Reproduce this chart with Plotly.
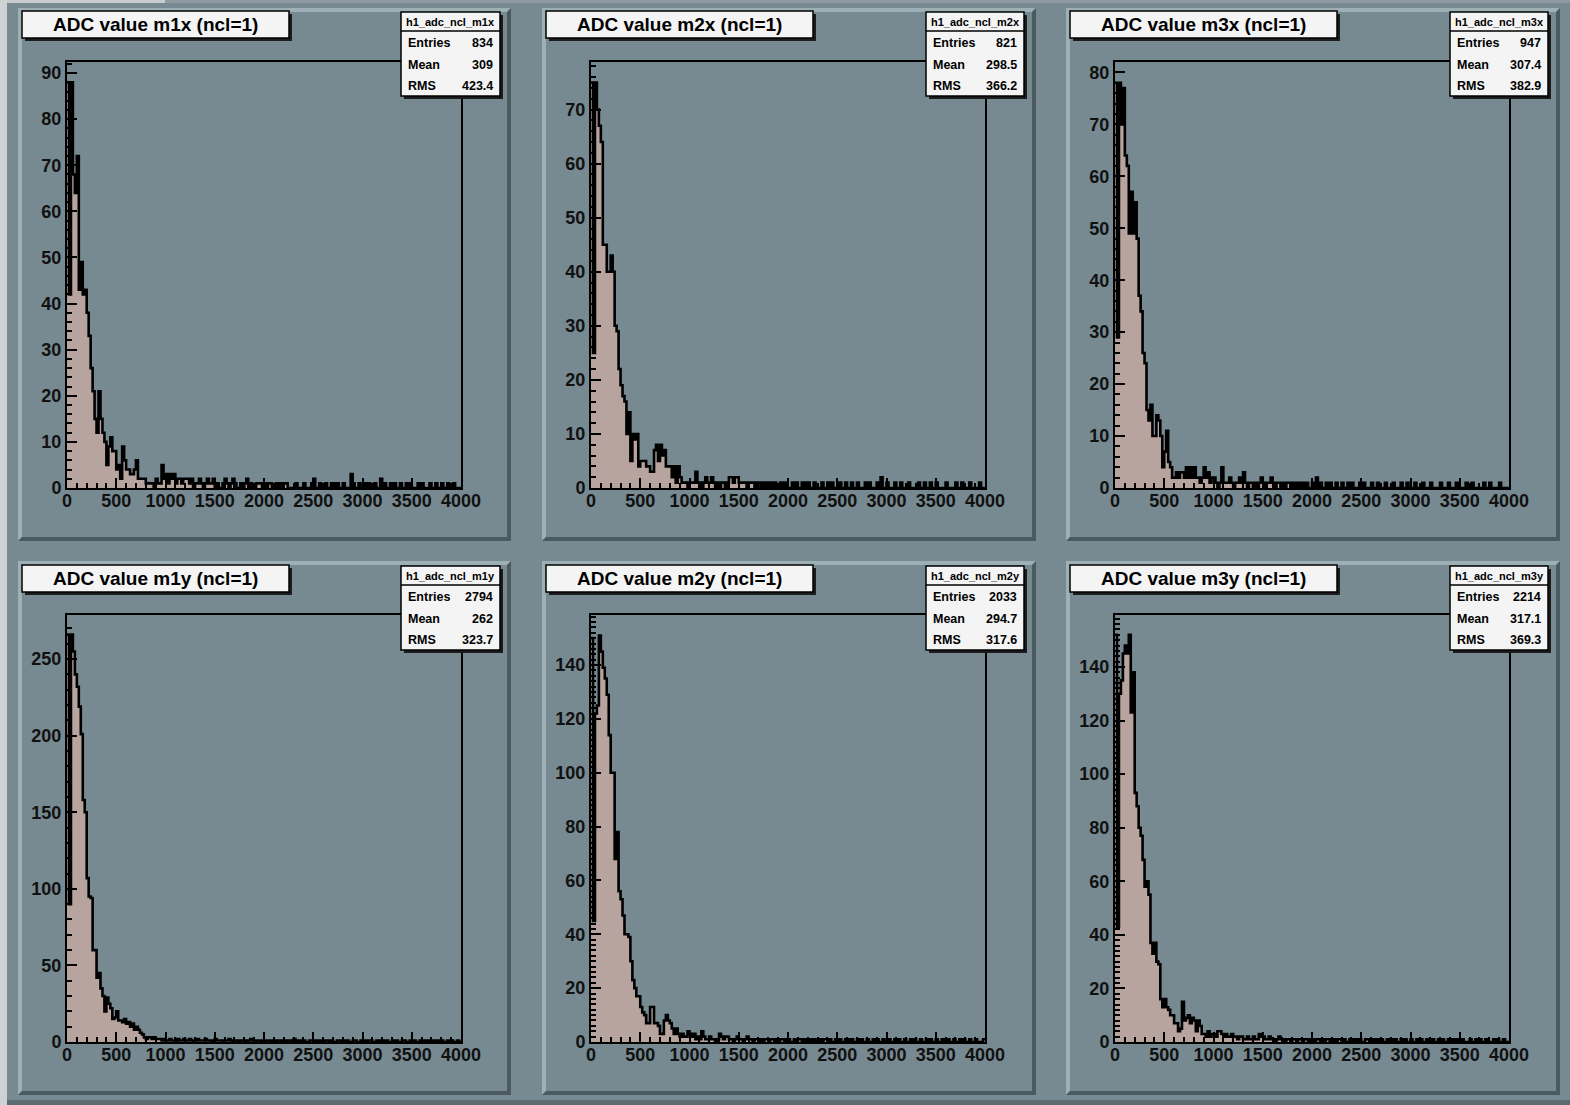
import plotly.graph_objects as go

W, H = 1570, 1105
BIN_WIDTH = 20  # ADC units per bin (0..4000)

# ---------------- data (counts per 20-ADC bin) ----------------
m1x = [
    88, 42, 88, 68, 64, 72, 43, 49, 42, 43,
    38, 33, 26, 21, 15, 12, 21, 15, 12, 10,
    5, 9, 11, 8, 8, 4, 5, 2, 9, 6,
    4, 4, 3, 3, 4, 6, 2, 2, 2, 2,
    1, 1, 1, 1, 0, 2, 1, 1, 5, 2,
    3, 1, 3, 2, 3, 1, 2, 2, 1, 2,
    2, 2, 1, 2, 0, 1, 1, 2, 1, 0,
    1, 2, 1, 1, 2, 0, 1, 0, 0, 1,
    2, 1, 0, 1, 2, 1, 0, 0, 1, 0,
    1, 2, 0, 1, 0, 0, 1, 1, 1, 0,
    1, 0, 1, 1, 0, 0, 1, 0, 1, 0,
    1, 1, 0, 0, 0, 0, 1, 0, 0, 0,
    1, 0, 0, 0, 1, 2, 0, 0, 1, 0,
    0, 1, 0, 0, 1, 1, 0, 1, 0, 0,
    1, 0, 0, 0, 3, 1, 0, 0, 1, 0,
    0, 1, 0, 1, 0, 0, 1, 0, 0, 2,
    0, 1, 0, 0, 1, 0, 1, 0, 0, 1,
    0, 0, 1, 0, 1, 0, 0, 0, 1, 0,
    1, 0, 0, 0, 1, 0, 0, 1, 0, 0,
    1, 0, 0, 1, 0, 0, 1, 0, 0, 0,
]
m2x = [
    75, 25, 75, 70, 67, 64, 45, 45, 40, 40,
    43, 40, 30, 29, 22, 19, 17, 16, 10, 14,
    5, 10, 9, 10, 4, 5, 5, 5, 4, 4,
    3, 3, 7, 8, 5, 8, 6, 7, 4, 4,
    4, 2, 4, 1, 4, 2, 1, 1, 1, 0,
    1, 1, 1, 3, 1, 1, 0, 1, 2, 1,
    1, 2, 1, 0, 1, 0, 1, 1, 0, 1,
    2, 2, 1, 2, 2, 1, 1, 1, 1, 0,
    1, 1, 1, 0, 1, 1, 0, 1, 0, 1,
    0, 1, 0, 1, 0, 0, 1, 0, 1, 0,
    0, 0, 1, 0, 1, 0, 0, 1, 0, 1,
    1, 0, 0, 1, 0, 0, 0, 1, 0, 0,
    1, 0, 1, 0, 0, 0, 1, 0, 0, 1,
    0, 0, 1, 0, 0, 1, 0, 0, 0, 1,
    0, 1, 0, 0, 0, 1, 0, 2, 0, 0,
    1, 0, 0, 0, 1, 0, 0, 1, 0, 0,
    0, 1, 0, 0, 0, 0, 1, 0, 0, 1,
    0, 0, 1, 0, 0, 1, 0, 0, 0, 0,
    1, 0, 0, 0, 0, 1, 0, 0, 1, 0,
    0, 0, 1, 0, 0, 0, 0, 1, 0, 0,
]
m3x = [
    78, 29, 78, 70, 77, 64, 62, 49, 57, 49,
    55, 48, 37, 34, 26, 24, 15, 13, 16, 10,
    10, 14, 13, 10, 4, 7, 11, 5, 4, 2,
    2, 3, 2, 3, 3, 2, 4, 2, 4, 2,
    4, 2, 2, 1, 2, 4, 2, 3, 1, 2,
    2, 1, 0, 1, 4, 1, 1, 1, 2, 1,
    0, 1, 1, 2, 1, 3, 1, 0, 1, 1,
    0, 1, 0, 1, 2, 1, 0, 1, 1, 2,
    1, 0, 1, 1, 0, 1, 0, 1, 1, 0,
    1, 0, 1, 0, 1, 1, 0, 1, 0, 0,
    1, 0, 2, 0, 1, 0, 0, 1, 0, 1,
    0, 0, 1, 0, 0, 1, 0, 0, 1, 0,
    1, 0, 0, 0, 1, 0, 1, 0, 0, 0,
    1, 0, 0, 1, 0, 0, 0, 1, 0, 0,
    0, 1, 0, 0, 0, 1, 0, 0, 1, 0,
    0, 0, 1, 0, 0, 0, 1, 0, 0, 0,
    1, 0, 0, 0, 0, 1, 0, 0, 0, 1,
    0, 0, 0, 1, 0, 0, 0, 0, 1, 0,
    0, 1, 0, 0, 0, 0, 0, 1, 0, 0,
    1, 0, 0, 0, 0, 1, 0, 0, 0, 0,
]
m1y = [
    266, 90, 266, 255, 240, 232, 219, 201, 158, 150,
    107, 95, 94, 60, 60, 42, 45, 35, 30, 20,
    29, 25, 22, 15, 16, 20, 14, 14, 13, 15,
    12, 13, 10, 12, 8, 10, 8, 6, 5, 3,
    2, 3, 3, 2, 3, 2, 2, 2, 1, 2,
    1, 1, 2, 1, 1, 0, 2, 1, 1, 2,
    1, 1, 2, 1, 0, 1, 2, 1, 1, 1,
    2, 1, 1, 0, 1, 2, 1, 1, 1, 0,
    1, 1, 2, 1, 0, 1, 1, 0, 1, 1,
    1, 0, 1, 2, 1, 0, 1, 1, 0, 1,
    0, 1, 1, 0, 1, 1, 0, 1, 1, 0,
    1, 0, 1, 1, 0, 2, 0, 1, 0, 1,
    1, 0, 0, 1, 1, 0, 1, 0, 1, 0,
    0, 1, 1, 0, 1, 0, 0, 1, 1, 0,
    1, 0, 1, 0, 0, 1, 1, 0, 0, 1,
    0, 1, 0, 1, 1, 0, 0, 1, 0, 1,
    1, 0, 1, 0, 0, 1, 0, 1, 0, 0,
    1, 1, 0, 0, 1, 0, 1, 0, 0, 1,
    0, 1, 0, 1, 0, 0, 1, 0, 1, 0,
    1, 0, 0, 1, 0, 1, 0, 0, 1, 0,
]
m2y = [
    150, 45, 122, 125, 151, 145, 139, 135, 129, 114,
    100, 100, 68, 78, 56, 53, 47, 40, 40, 39,
    30, 23, 20, 17, 17, 13, 11, 10, 7, 7,
    13, 13, 7, 7, 6, 3, 3, 8, 10, 8,
    7, 5, 3, 5, 3, 2, 3, 2, 2, 4,
    3, 2, 3, 1, 2, 1, 4, 2, 1, 1,
    2, 1, 1, 0, 1, 3, 2, 1, 2, 2,
    1, 1, 0, 1, 2, 1, 1, 0, 1, 2,
    1, 1, 0, 1, 1, 0, 1, 0, 1, 1,
    0, 1, 1, 0, 1, 0, 1, 1, 0, 1,
    1, 0, 0, 1, 0, 1, 1, 0, 1, 0,
    0, 1, 0, 1, 0, 0, 1, 0, 1, 1,
    0, 1, 0, 0, 1, 0, 1, 0, 0, 1,
    1, 0, 1, 0, 0, 1, 0, 1, 0, 0,
    1, 0, 0, 1, 0, 1, 0, 0, 1, 0,
    0, 1, 0, 0, 1, 0, 1, 0, 0, 1,
    0, 0, 1, 0, 1, 0, 0, 1, 0, 0,
    1, 0, 1, 0, 0, 1, 0, 0, 1, 0,
    0, 1, 0, 0, 1, 0, 0, 1, 0, 1,
    0, 0, 1, 0, 0, 1, 0, 0, 0, 1,
]
m3y = [
    152, 43, 130, 135, 145, 148, 145, 152, 123, 138,
    93, 88, 80, 77, 68, 58, 60, 55, 37, 33,
    37, 30, 29, 16, 13, 16, 13, 12, 10, 10,
    7, 7, 4, 5, 15, 8, 9, 10, 7, 9,
    8, 4, 8, 6, 3, 3, 2, 4, 2, 3,
    3, 2, 4, 4, 3, 2, 3, 2, 2, 3,
    2, 2, 1, 2, 2, 1, 1, 2, 1, 1,
    2, 1, 1, 3, 2, 2, 1, 1, 2, 1,
    1, 0, 1, 2, 1, 1, 0, 1, 1, 0,
    1, 1, 0, 1, 1, 0, 1, 1, 0, 1,
    1, 0, 1, 1, 0, 1, 0, 1, 1, 0,
    0, 1, 0, 1, 1, 0, 1, 0, 0, 1,
    1, 0, 1, 0, 1, 0, 0, 1, 1, 0,
    0, 1, 0, 1, 0, 1, 0, 0, 1, 0,
    1, 0, 1, 0, 0, 1, 0, 1, 0, 0,
    1, 0, 0, 1, 0, 1, 0, 0, 1, 0,
    0, 1, 0, 0, 1, 0, 1, 0, 0, 1,
    0, 1, 0, 1, 0, 0, 1, 0, 0, 0,
    1, 0, 0, 1, 0, 1, 0, 0, 1, 0,
    0, 0, 1, 0, 1, 0, 0, 1, 0, 0,
]

series = [m1x, m2x, m3x, m1y, m2y, m3y]
titles = ["ADC value m1x (ncl=1)", "ADC value m2x (ncl=1)", "ADC value m3x (ncl=1)",
          "ADC value m1y (ncl=1)", "ADC value m2y (ncl=1)", "ADC value m3y (ncl=1)"]
hist_names = ["h1_adc_ncl_m1x", "h1_adc_ncl_m2x", "h1_adc_ncl_m3x",
              "h1_adc_ncl_m1y", "h1_adc_ncl_m2y", "h1_adc_ncl_m3y"]
entries = ["834", "821", "947", "2794", "2033", "2214"]
means = ["309", "298.5", "307.4", "262", "294.7", "317.1"]
rmss = ["423.4", "366.2", "382.9", "323.7", "317.6", "369.3"]
y_tops = [92.4, 78.8, 82.0, 278.8, 158.6, 159.4]
y_major = [10, 10, 10, 50, 20, 20]
y_minor = [2, 2, 2, 10, 2, 2]
x_range = [0, 4000]

# ---------------- style / layout ----------------
CANVAS = "#778a91"
LIGHT = "#9db0b6"
DARK = "#4b5a5f"
FILL = "#b8a49e"
FONT = "Liberation Sans"

PAD_X = [(18, 511), (542, 1036), (1066, 1560)]
PAD_Y = [(8, 541), (561, 1095)]
FRAME_X = [(67, 461), (591, 985), (1115, 1509)]
FRAME_Y = [(62, 488), (615, 1042)]
TITLE_X = [(22, 289), (546, 813), (1070, 1337)]
TITLE_Y = [(11, 38), (565, 592)]
STAT_X = [(401, 500), (926, 1024), (1450, 1548)]
STAT_Y = [(12, 96), (566, 650)]


def fx(px):
    return px / W


def fy(py):
    return 1 - py / H


shapes = []
annotations = []


def rect(x0, y0, x1, y1, fill, line=None, lw=0, layer="above"):
    shapes.append(dict(type="rect", xref="paper", yref="paper",
                       x0=fx(x0), x1=fx(x1), y0=fy(y1), y1=fy(y0),
                       fillcolor=fill, layer=layer,
                       line=dict(color=line if line else fill, width=lw)))


def poly(pts, fill, layer="below"):
    p = "M " + " L ".join(f"{fx(a):.6f},{fy(b):.6f}" for a, b in pts) + " Z"
    shapes.append(dict(type="path", xref="paper", yref="paper", path=p,
                       fillcolor=fill, line=dict(width=0), layer=layer))


# window edges
rect(0, 0, 7, H, "#cfd2d4", layer="below")
rect(7, 0, 165, 3, "#c9cccf", layer="below")
rect(165, 0, W, 3, "#8e9aa0", layer="below")
rect(7, 1100, W, H, "#5d6c71", layer="below")

fig = go.Figure()

for i in range(6):
    r, c = divmod(i, 3)
    ax = "" if i == 0 else str(i + 1)

    # pad with bevelled border
    px0, px1 = PAD_X[c]
    py0, py1 = PAD_Y[r]
    b = 4
    poly([(px0, py0), (px1, py0), (px1 - b, py0 + b), (px0 + b, py0 + b),
          (px0 + b, py1 - b), (px0, py1)], LIGHT)
    poly([(px1, py0), (px1, py1), (px0, py1), (px0 + b, py1 - b),
          (px1 - b, py1 - b), (px1 - b, py0 + b)], DARK)

    counts = series[i]
    xs = [k * BIN_WIDTH for k in range(len(counts) + 1)]
    ys = list(counts) + [counts[-1]]
    fig.add_trace(go.Scatter(
        x=xs, y=ys, mode="lines",
        line=dict(shape="hv", color="black", width=2.6),
        fill="tozeroy", fillcolor=FILL,
        xaxis="x" + ax, yaxis="y" + ax,
        hoverinfo="skip", showlegend=False))

    fx0, fx1 = FRAME_X[c]
    fy0, fy1 = FRAME_Y[r]
    tickfont = dict(family=FONT, size=18, color="#111111", weight="bold")
    fig.update_layout(**{
        "xaxis" + ax: dict(
            domain=[fx(fx0), fx(fx1)], anchor="y" + ax, range=x_range,
            tickmode="linear", tick0=0, dtick=500,
            ticks="inside", ticklen=10, tickwidth=1.5, tickcolor="black",
            showline=True, linecolor="black", linewidth=2, mirror=True,
            showgrid=False, zeroline=False, tickfont=tickfont,
            automargin=False, ticklabelstandoff=-5,
            minor=dict(ticks="inside", ticklen=5, tickwidth=1.5,
                       tickcolor="black", dtick=100, showgrid=False),
            fixedrange=True),
        "yaxis" + ax: dict(
            domain=[fy(fy1), fy(fy0)], anchor="x" + ax,
            range=[0, y_tops[i]],
            tickmode="linear", tick0=0, dtick=y_major[i],
            ticks="inside", ticklen=10, tickwidth=1.5, tickcolor="black",
            showline=True, linecolor="black", linewidth=2, mirror=True,
            showgrid=False, zeroline=False, tickfont=tickfont,
            ticklabelstandoff=0, automargin=False,
            minor=dict(ticks="inside", ticklen=5, tickwidth=1.5,
                       tickcolor="black", dtick=y_minor[i], showgrid=False),
            fixedrange=True),
    })

    # title box
    tx0, tx1 = TITLE_X[c]
    ty0, ty1 = TITLE_Y[r]
    rect(tx0 + 3, ty0 + 3, tx1 + 3, ty1 + 3, "#1c1c1c")
    rect(tx0, ty0, tx1, ty1, "#f4f4f4", line="black", lw=1.5)
    annotations.append(dict(
        text=titles[i], xref="paper", yref="paper",
        x=fx((tx0 + tx1) / 2), y=fy((ty0 + ty1) / 2),
        xanchor="center", yanchor="middle", showarrow=False,
        font=dict(family=FONT, size=19, color="black", weight="bold")))

    # stats box
    sx0, sx1 = STAT_X[c]
    sy0, sy1 = STAT_Y[r]
    rect(sx0 + 3, sy0 + 3, sx1 + 3, sy1 + 3, "#1c1c1c")
    rect(sx0, sy0, sx1, sy1, "#f4f4f4", line="black", lw=1.5)
    shapes.append(dict(type="line", xref="paper", yref="paper",
                       x0=fx(sx0), x1=fx(sx1), y0=fy(sy0 + 19), y1=fy(sy0 + 19),
                       line=dict(color="black", width=1.5)))
    annotations.append(dict(
        text=hist_names[i], xref="paper", yref="paper",
        x=fx((sx0 + sx1) / 2), y=fy(sy0 + 9.5),
        xanchor="center", yanchor="middle", showarrow=False,
        font=dict(family=FONT, size=11, color="black", weight="bold")))
    for j, (lab, val) in enumerate([("Entries", entries[i]),
                                    ("Mean", means[i]),
                                    ("RMS", rmss[i])]):
        yy = sy0 + 31 + j * 21.5
        annotations.append(dict(
            text=lab, xref="paper", yref="paper", x=fx(sx0 + 5), y=fy(yy),
            xanchor="left", yanchor="middle", showarrow=False,
            font=dict(family=FONT, size=12.5, color="black", weight="bold")))
        annotations.append(dict(
            text=val, xref="paper", yref="paper", x=fx(sx1 - 5), y=fy(yy),
            xanchor="right", yanchor="middle", showarrow=False,
            font=dict(family=FONT, size=12.5, color="black", weight="bold")))

fig.update_layout(
    width=W, height=H, autosize=False,
    margin=dict(l=0, r=0, t=0, b=0, pad=0, autoexpand=False),
    paper_bgcolor=CANVAS, plot_bgcolor="rgba(0,0,0,0)",
    shapes=shapes, annotations=annotations, showlegend=False,
)

POST = (
    "document.documentElement.style.margin='0';"
    "document.body.style.margin='0';document.body.style.padding='0';"
    "document.documentElement.style.overflow='hidden';"
    "document.body.style.overflow='hidden';"
)

fig.write_html(
    "out.html",
    config={"displayModeBar": False, "responsive": False},
    post_script=POST,
)
